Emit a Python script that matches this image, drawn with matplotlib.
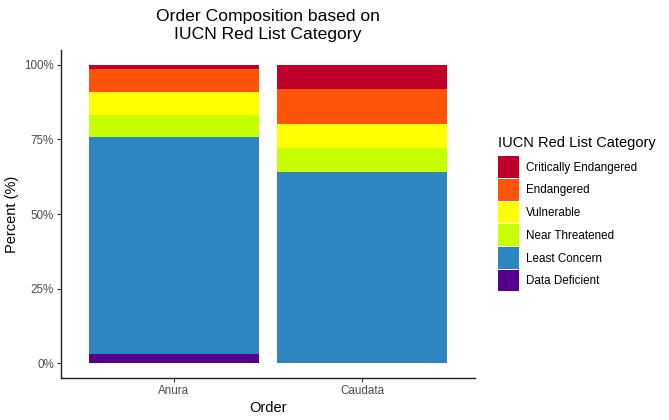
import matplotlib
matplotlib.use("Agg")
import matplotlib.pyplot as plt
from matplotlib.patches import Patch
import numpy as np

orders = ["Anura", "Caudata"]
categories = ["Data Deficient", "Least Concern", "Near Threatened",
              "Vulnerable", "Endangered", "Critically Endangered"]
anura = [2.9, 72.8, 7.4, 7.75, 7.7, 1.45]
caudata = [0.0, 64.0, 8.0, 8.1, 11.8, 8.1]
colors = ["#54008C", "#2E86C1", "#C6FF00", "#FFFF00", "#FF530A", "#C0002A"]
yticks = [0, 25, 50, 75, 100]
ytick_labels = ["0%", "25%", "50%", "75%", "100%"]

plt.rcParams['font.family'] = ['Liberation Sans', 'DejaVu Sans']

fig = plt.figure(figsize=(6.69, 4.2), dpi=100)
ax = fig.add_axes([61/669, 1-378/420, 414/669, (378-50)/420])

x = np.arange(len(orders))
bottoms = np.zeros(len(orders))
vals = np.array([anura, caudata])
for i, cat in enumerate(categories):
    v = vals[:, i]
    ax.bar(x, v, bottom=bottoms, width=0.9, color=colors[i], label=cat, linewidth=0)
    bottoms += v

ax.set_xlim(-0.6, 1.6)
ax.set_ylim(-5, 105)
ax.set_xticks(x)
ax.set_xticklabels(orders)
ax.set_yticks(yticks)
ax.set_yticklabels(ytick_labels)
for s in ["top", "right"]:
    ax.spines[s].set_visible(False)
for s in ["left", "bottom"]:
    ax.spines[s].set_linewidth(1.0)
    ax.spines[s].set_color("#222222")
ax.tick_params(axis="both", length=3, width=0.8, color="#333333", labelsize=8.4, labelcolor="#4D4D4D", pad=2)
ax.set_xlabel("Order", fontsize=10.5, labelpad=3)
ax.set_ylabel("Percent (%)", fontsize=10.5, labelpad=4)
ax.set_title("Order Composition based on\nIUCN Red List Category", fontsize=12.6, pad=8, linespacing=1.25)

handles = [Patch(facecolor=colors[i], edgecolor="none", label=categories[i]) for i in range(len(categories))][::-1]
leg = fig.legend(handles=handles, loc="upper left", bbox_to_anchor=(498/669, 1-136/420),
                 frameon=False, fontsize=8.4, title="IUCN Red List Category",
                 title_fontsize=10.5, handlelength=1.8, handleheight=2.48,
                 labelspacing=0.09, handletextpad=0.6, borderpad=0, borderaxespad=0)
leg._legend_box.align = "left"
leg._legend_box.sep = 4.5

fig.savefig("out.png", dpi=100)
